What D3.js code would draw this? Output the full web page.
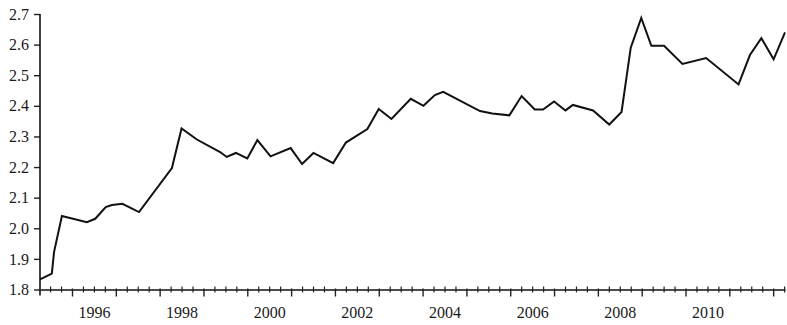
<!DOCTYPE html>
<html>
<head>
<meta charset="utf-8">
<script src="https://cdn.jsdelivr.net/npm/d3@7"></script>
<style>
    body { margin: 0; background: #fff; }
    text { font-family: "Liberation Serif", "DejaVu Serif", serif; fill: #1a1a1a; }
</style>
</head>
<body>
<svg id="chart" width="787" height="325"></svg>
<script>
// Observation times (decimal years) and series values
const years = [
    1995.27, 1995.54, 1995.59, 1995.77, 1996.34, 1996.53, 1996.77, 1996.91, 1997.15, 1997.53,
    1998.28, 1998.50, 1998.85, 1999.38, 1999.53, 1999.74, 2000.00, 2000.23, 2000.53, 2000.99,
    2001.25, 2001.51, 2001.96, 2002.25, 2002.74, 2003.00, 2003.29, 2003.73, 2004.02, 2004.28,
    2004.47, 2005.31, 2005.59, 2005.98, 2006.26, 2006.56, 2006.75, 2007.00, 2007.26, 2007.43,
    2007.89, 2008.26, 2008.54, 2008.75, 2008.99, 2009.22, 2009.51, 2009.93, 2010.47, 2011.21,
    2011.47, 2011.73, 2012.01, 2012.27
];
const values = [
    1.833, 1.852, 1.922, 2.040, 2.020, 2.031, 2.069, 2.076, 2.080, 2.053,
    2.197, 2.326, 2.290, 2.249, 2.233, 2.246, 2.228, 2.288, 2.235, 2.262,
    2.210, 2.246, 2.213, 2.280, 2.324, 2.390, 2.357, 2.423, 2.400, 2.435,
    2.446, 2.383, 2.375, 2.369, 2.432, 2.388, 2.388, 2.414, 2.385, 2.403,
    2.385, 2.339, 2.380, 2.590, 2.687, 2.596, 2.596, 2.537, 2.556, 2.470,
    2.566, 2.621, 2.552, 2.640
];
const yTicks = [1.8, 1.9, 2.0, 2.1, 2.2, 2.3, 2.4, 2.5, 2.6, 2.7];
const yearLabels = [1996, 1998, 2000, 2002, 2004, 2006, 2008, 2010];

const svg = d3.select('#chart');

// Scales
const x = d3.scaleLinear().domain(d3.extent(years)).range([40, 785]);
const y = d3.scaleLinear().domain([1.8, 2.7]).range([289.5, 14]);

const [x0, x1] = d3.extent(years);
const yearTicks = d3.range(Math.ceil(x0), Math.floor(x1) + 1);
const quarterTicks = d3.range(Math.ceil(x0 * 4) / 4, x1, 0.25).filter(d => d % 1 !== 0);

// Minor quarterly ticks (crossing the axis)
const minor = svg.append('g')
    .attr('transform', `translate(0,${y(1.8)})`)
    .call(d3.axisBottom(x).tickValues(quarterTicks).tickFormat('').tickSizeOuter(0));
minor.select('.domain').attr('stroke', '#111').attr('stroke-width', 1.6);
minor.selectAll('.tick line').attr('y1', -3).attr('y2', 3).attr('stroke', '#222').attr('stroke-width', 1.2);

// Year ticks
const major = svg.append('g')
    .attr('transform', `translate(0,${y(1.8)})`)
    .call(d3.axisBottom(x).tickValues(yearTicks).tickFormat('').tickSize(7).tickSizeOuter(0));
major.select('.domain').remove();
major.selectAll('.tick line').attr('y1', -1).attr('stroke', '#222').attr('stroke-width', 1.4);

// Year labels, centred in the middle of each year
const labels = svg.append('g')
    .attr('transform', `translate(0,${y(1.8)})`)
    .call(d3.axisBottom(x).tickValues(yearLabels.map(d => d + 0.5))
        .tickFormat(d => Math.floor(d)).tickSize(0).tickPadding(17));
labels.select('.domain').remove();
labels.selectAll('text').attr('font-size', 16);

// Y axis
const yAxis = svg.append('g')
    .attr('transform', `translate(${x(x0)},0)`)
    .call(d3.axisLeft(y).tickValues(yTicks).tickFormat(d3.format('.1f')).tickSize(6).tickPadding(5).tickSizeOuter(0));
yAxis.select('.domain').remove();
yAxis.selectAll('.tick line').attr('stroke', '#222').attr('stroke-width', 1.4);
yAxis.selectAll('text').attr('font-size', 16);

// Y axis line, running a little below the x axis
svg.append('line')
    .attr('x1', x(x0)).attr('x2', x(x0))
    .attr('y1', y(2.7)).attr('y2', y(1.8) + 6)
    .attr('stroke', '#111').attr('stroke-width', 1.6);

// Series line
const line = d3.line()
    .x((d, i) => x(years[i]))
    .y(d => y(d));

svg.append('path')
    .datum(values)
    .attr('fill', 'none')
    .attr('stroke', '#111')
    .attr('stroke-width', 2)
    .attr('stroke-linejoin', 'miter')
    .attr('d', line);
</script>
</body>
</html>
